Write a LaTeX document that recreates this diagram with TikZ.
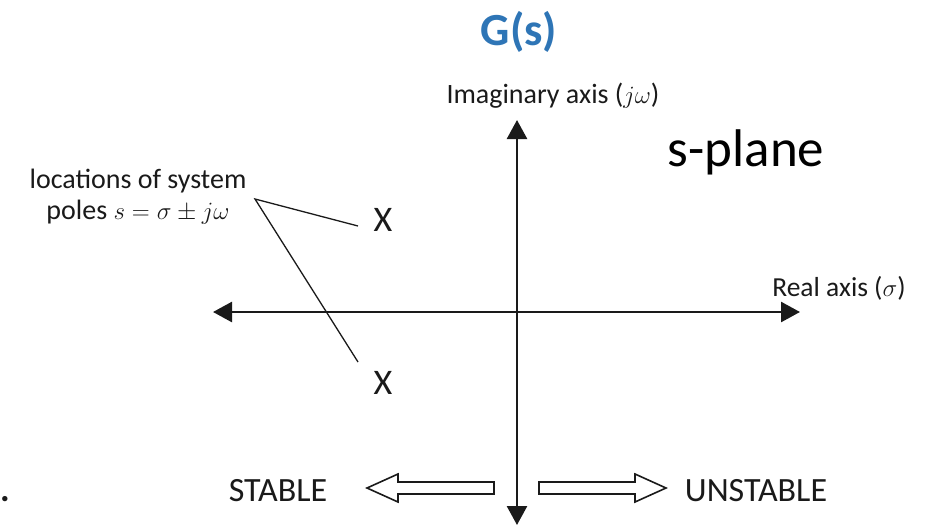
\documentclass[tikz,border=0pt]{standalone}
\usepackage{fontspec}
\setmainfont{Carlito}
\usepackage{tikz}
\usetikzlibrary{arrows.meta,calc}
\definecolor{ink}{HTML}{1A1A1A}
\definecolor{titleblue}{HTML}{2E75B6}
\tikzset{
  axis/.style={line width=2.6pt,color=ink,{Triangle[length=19pt,width=20pt]}-{Triangle[length=19pt,width=20pt]}},
  leader/.style={line width=1.3pt,color=ink},
  hollow/.style={draw=ink,line width=1.6pt,fill=white,line join=miter},
  label/.style={font=\fontsize{28}{31}\selectfont,text=ink,inner sep=0pt},
  polemark/.style={font=\fontsize{36}{40}\selectfont,text=ink,inner sep=0pt},
  stability/.style={font=\fontsize{34}{38}\selectfont,text=ink,inner sep=0pt},
}
\begin{document}
\begin{tikzpicture}[x=1pt,y=-1pt]
  \useasboundingbox (0,0) rectangle (927,528);

  \node[font=\fontsize{46}{50}\selectfont\bfseries,text=titleblue,inner sep=0pt] (gtitle) at (519,32) {G(s)};
  \node[label] (imaglabel) at (553,96) {Imaginary axis ($j\omega$)};
  \node[font=\fontsize{53}{57}\selectfont,text=black,inner sep=0pt] (splane) at (746,152) {s-plane};
  \node[label,font=\fontsize{27.5}{31}\selectfont] (reallabel) at (839,288) {Real axis ($\sigma$)};
  \node[label,align=center] (polelabel) at (138,197) {locations of system\\poles $s=\sigma\pm j\omega$};

  % axes
  \coordinate (xleft) at (213,312);
  \coordinate (xright) at (800,312);
  \coordinate (ybottom) at (517,525);
  \coordinate (ytop) at (517,120);
  \draw[axis] (xleft) -- (xright);
  \draw[axis] (ybottom) -- (ytop);

  % poles
  \node[polemark] (poleup) at (383,220) {X};
  \node[polemark] (poledown) at (383,383) {X};
  \coordinate (poletip) at (255,199);
  \coordinate (upend) at (358,226);
  \coordinate (downend) at (358,362);
  \draw[leader] (upend) -- (poletip) -- (downend);

  % stability arrows
  \node[stability] (stable) at (278,491) {STABLE};
  \node[stability] (unstable) at (756,491) {UNSTABLE};
  \draw[hollow] (494,482) -- (398,482) -- (398,474) -- (367,488) -- (398,502) -- (398,494) -- (494,494) -- cycle;
  \draw[hollow] (539,482) -- (635,482) -- (635,474) -- (666,488) -- (635,502) -- (635,494) -- (539,494) -- cycle;

  \node[font=\fontsize{36}{40}\selectfont\bfseries,text=ink,inner sep=0pt,anchor=base west] (dot) at (0,501) {.};
\end{tikzpicture}
\end{document}
